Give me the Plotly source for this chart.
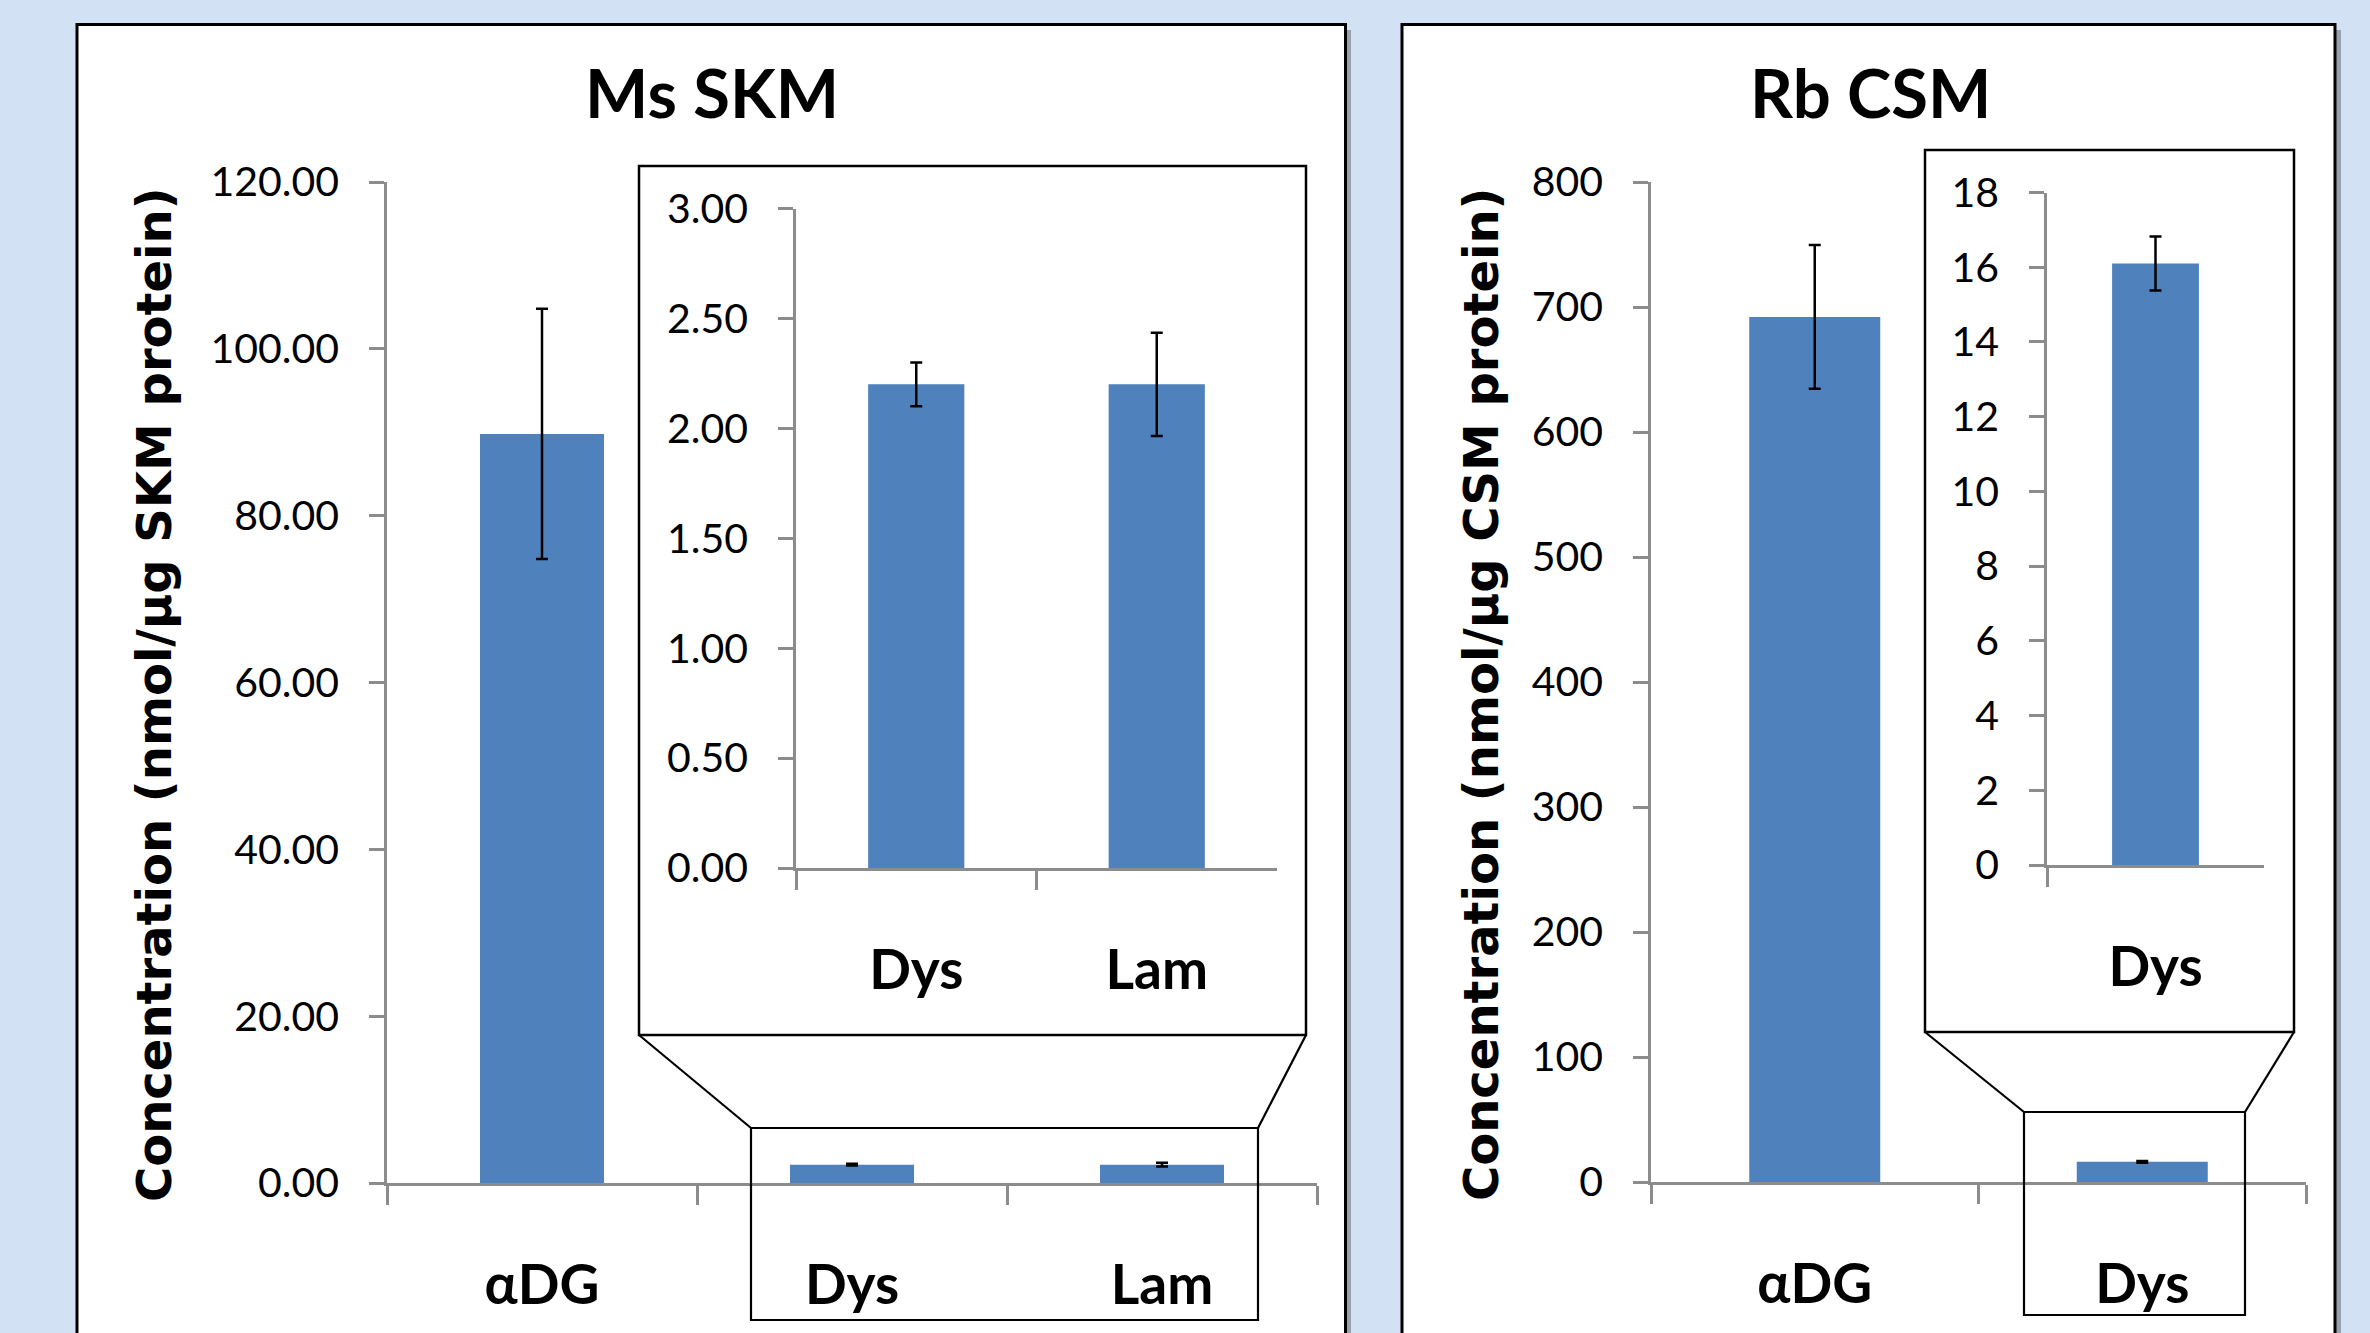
import plotly.graph_objects as go

W, H = 2370, 1333

# ---------------- data ----------------
skm_main_cats = ["αDG", "Dys", "Lam"]
skm_main_vals = [89.8, 2.20, 2.20]
skm_main_err = [15.0, 0.10, 0.235]
skm_main_ticks = [0, 20, 40, 60, 80, 100, 120]

skm_inset_cats = ["Dys", "Lam"]
skm_inset_vals = [2.20, 2.20]
skm_inset_err = [0.10, 0.235]
skm_inset_ticks = [0.0, 0.5, 1.0, 1.5, 2.0, 2.5, 3.0]

csm_main_cats = ["αDG", "Dys"]
csm_main_vals = [692, 16.1]
csm_main_err = [57.5, 0.72]
csm_main_ticks = [0, 100, 200, 300, 400, 500, 600, 700, 800]

csm_inset_cats = ["Dys"]
csm_inset_vals = [16.1]
csm_inset_err = [0.72]
csm_inset_ticks = [0, 2, 4, 6, 8, 10, 12, 14, 16, 18]

titles = ["Ms SKM", "Rb CSM"]
ytitles = ["Concentration (nmol/µg SKM protein)", "Concentration (nmol/µg CSM protein)"]

# ---------------- style ----------------
BAR = "#4f81bd"
AXC = "#8c8c8c"
BG = "#d2e1f4"
TICKFONT = dict(family="Lato", size=41, color="black")
CATFONT = dict(family="Lato", size=55, color="black", weight="bold")


def px(x):
    return x / W


def py(y):
    return 1 - y / H


fig = go.Figure()


def add_bars(cats, vals, errs, ax):
    fig.add_trace(go.Bar(
        x=cats, y=vals, width=0.4,
        marker=dict(color=BAR, line=dict(width=0)),
        error_y=dict(type="data", array=errs, color="black", thickness=2.5, width=6),
        xaxis="x" + ax, yaxis="y" + ax, showlegend=False,
    ))


add_bars(skm_main_cats, skm_main_vals, skm_main_err, "")
add_bars(skm_inset_cats, skm_inset_vals, skm_inset_err, "2")
add_bars(csm_main_cats, csm_main_vals, csm_main_err, "3")
add_bars(csm_inset_cats, csm_inset_vals, csm_inset_err, "4")


def xax(dom, n, anchor):
    return dict(domain=[px(dom[0]), px(dom[1])], anchor=anchor, type="category",
                range=[-0.5, n - 0.5], showline=True, linecolor=AXC, linewidth=2.5,
                ticks="outside", tickson="boundaries", ticklen=19, tickwidth=2.5,
                tickcolor=AXC, showgrid=False, zeroline=False, tickfont=CATFONT,
                ticklabelstandoff=52, fixedrange=True, automargin=False)


def yax(dom, rng, ticks, fmt, anchor):
    return dict(domain=[py(dom[0]), py(dom[1])], anchor=anchor, range=rng,
                tickmode="array", tickvals=ticks, ticktext=[fmt.format(t) for t in ticks],
                showline=True, linecolor=AXC, linewidth=2.5, ticks="outside",
                ticklen=15, tickwidth=2.5, tickcolor=AXC, showgrid=False,
                zeroline=False, tickfont=TICKFONT, ticklabelstandoff=22, fixedrange=True,
                automargin=False)


shapes = []


def rect(x0, y0, x1, y1, fill, lw, layer="below", lc="black"):
    shapes.append(dict(type="rect", xref="paper", yref="paper",
                       x0=px(x0), x1=px(x1), y0=py(y1), y1=py(y0),
                       fillcolor=fill, line=dict(color=lc, width=lw), layer=layer))


def line(x0, y0, x1, y1, lw=2.2):
    shapes.append(dict(type="line", xref="paper", yref="paper",
                       x0=px(x0), x1=px(x1), y0=py(y0), y1=py(y1),
                       line=dict(color="black", width=lw), layer="above"))


# panel shadows + panels
rect(82, 30, 1351, 1345, "rgba(0,0,0,0.28)", 0)
rect(1407, 30, 2341, 1345, "rgba(0,0,0,0.28)", 0)
rect(77, 24.5, 1345.5, 1340, "white", 3)
rect(1402, 24.5, 2335, 1340, "white", 3)
# inset boxes
rect(639, 166, 1306, 1035, "white", 2.5)
rect(1925, 150, 2294, 1032, "white", 2.5)
# zoom boxes
rect(751, 1128, 1258, 1320, "rgba(0,0,0,0)", 2.2, layer="above")
rect(2024, 1112, 2245, 1315, "rgba(0,0,0,0)", 2.2, layer="above")
# connectors
line(639, 1035, 751, 1128)
line(1306, 1035, 1258, 1128)
line(1925, 1032, 2024, 1112)
line(2294, 1032, 2245, 1112)

annotations = [
    dict(text="<b>" + titles[0] + "</b>", x=px(712), y=py(92), xref="paper", yref="paper",
         showarrow=False, font=dict(family="Lato", size=67, color="black"),
         xanchor="center", yanchor="middle"),
    dict(text="<b>" + titles[1] + "</b>", x=px(1870), y=py(92), xref="paper", yref="paper",
         showarrow=False, font=dict(family="Lato", size=67, color="black"),
         xanchor="center", yanchor="middle"),
    dict(text="<b>" + ytitles[0] + "</b>", x=px(154), y=py(695), xref="paper", yref="paper",
         showarrow=False, textangle=-90, font=dict(family="DejaVu Sans", size=48, color="black"),
         xanchor="center", yanchor="middle"),
    dict(text="<b>" + ytitles[1] + "</b>", x=px(1481), y=py(694), xref="paper", yref="paper",
         showarrow=False, textangle=-90, font=dict(family="DejaVu Sans", size=48, color="black"),
         xanchor="center", yanchor="middle"),
]

fig.update_layout(
    template="none",
    width=W, height=H, autosize=False,
    margin=dict(l=0, r=0, t=0, b=0, pad=0, autoexpand=False),
    paper_bgcolor=BG, plot_bgcolor="rgba(0,0,0,0)",
    showlegend=False,
    xaxis=xax((387, 1317), 3, "y"),
    yaxis=yax((1183, 182), [0, 120], skm_main_ticks, "{:.2f}", "x"),
    xaxis2=xax((796, 1277), 2, "y2"),
    yaxis2=yax((868, 208.5), [0, 3], skm_inset_ticks, "{:.2f}", "x2"),
    xaxis3=xax((1651, 2306), 2, "y3"),
    yaxis3=yax((1182, 182), [0, 800], csm_main_ticks, "{:d}", "x3"),
    xaxis4=xax((2047, 2264), 1, "y4"),
    yaxis4=yax((865, 192.5), [0, 18], csm_inset_ticks, "{:d}", "x4"),
    shapes=shapes,
    annotations=annotations,
)

fig.write_html(
    "out.html",
    config={"displayModeBar": False},
    post_script="document.body.style.margin='0';document.body.style.overflow='hidden';",
)
